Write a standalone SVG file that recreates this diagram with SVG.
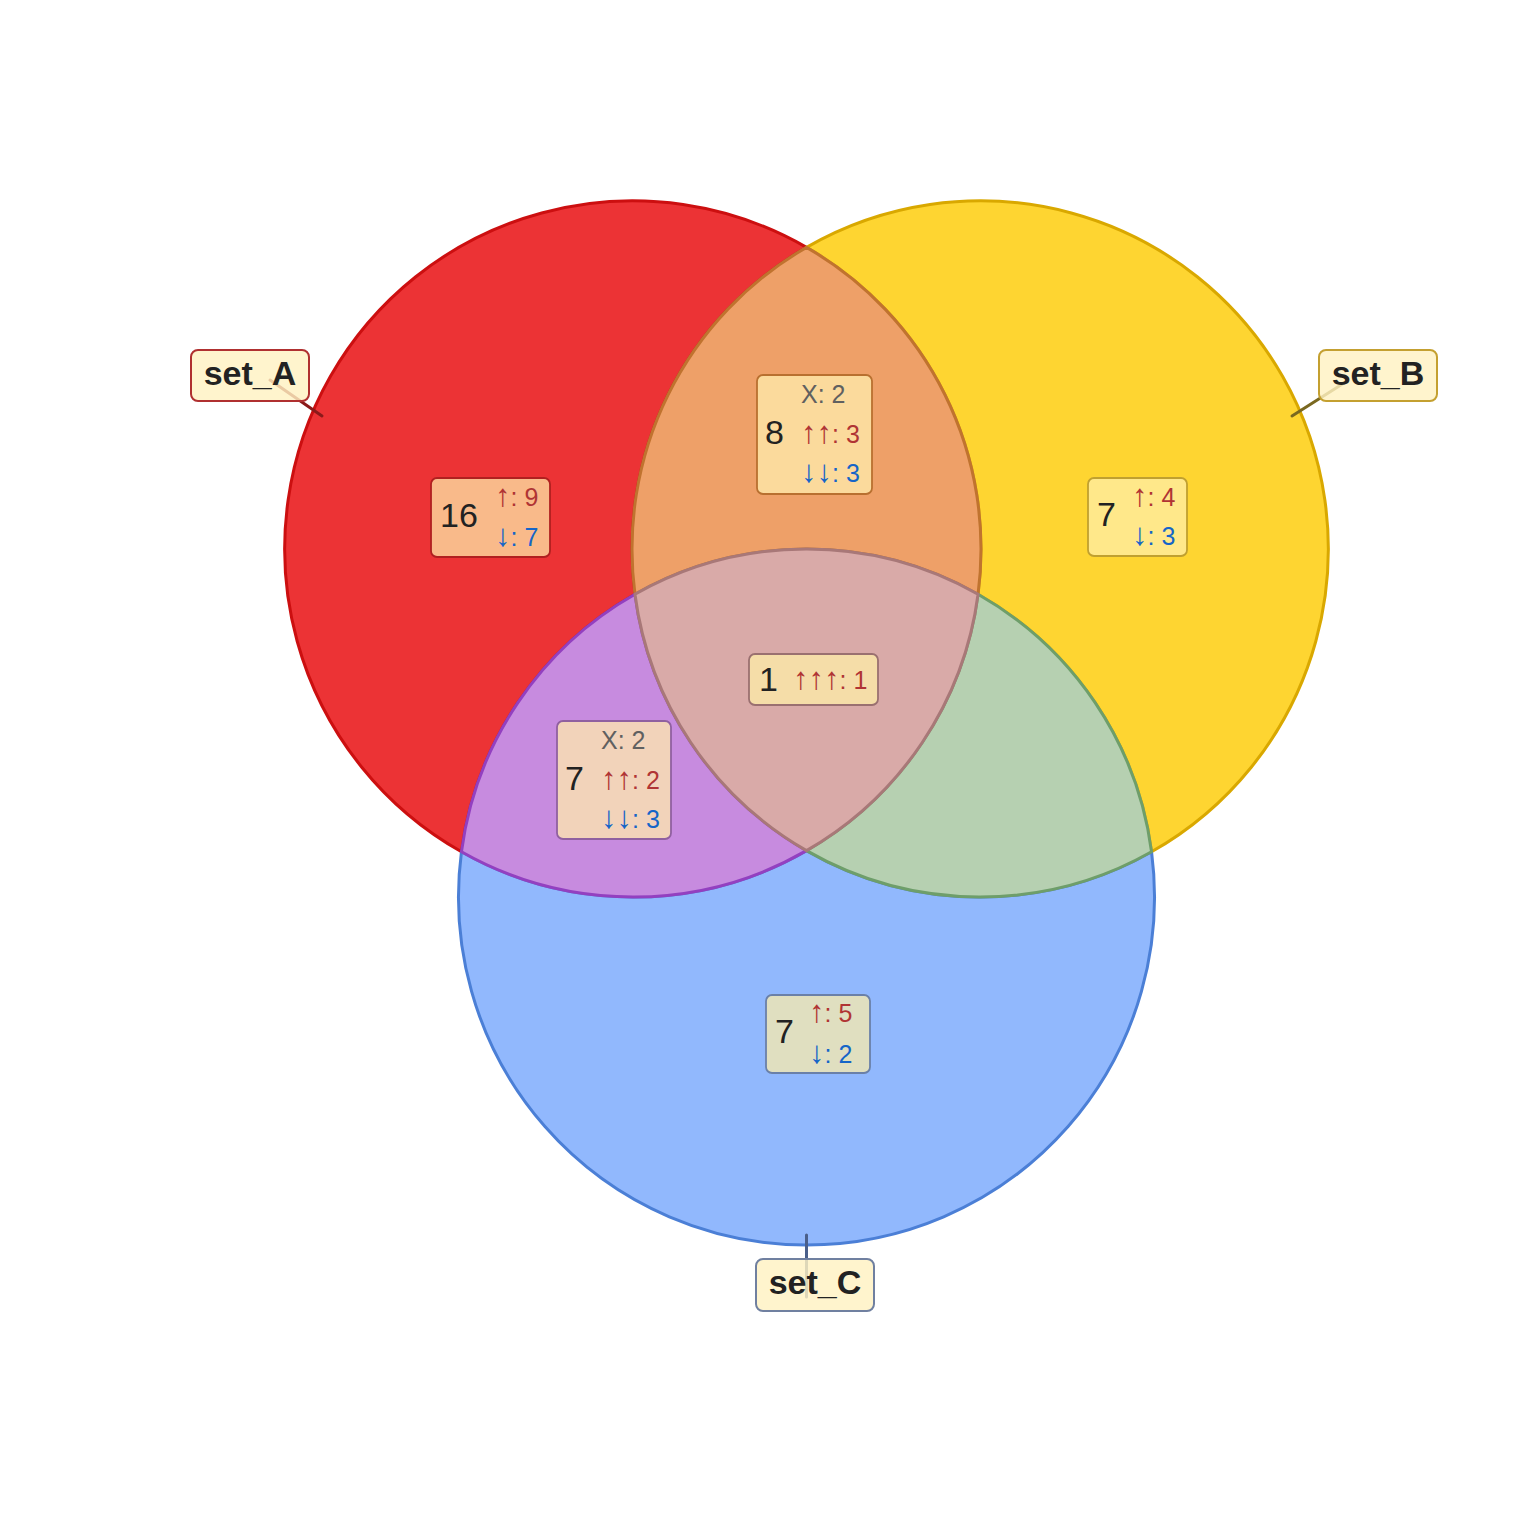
<svg xmlns="http://www.w3.org/2000/svg" width="1536" height="1536" viewBox="0 0 1536 1536">
<style>
.reg{stroke-width:3;stroke-linejoin:round}
.box{stroke-width:1.8}
.lab{fill:#FFF2C2;fill-opacity:0.82;stroke-width:2}
.big{font-family:"Liberation Sans",Arial,sans-serif;font-size:34px;fill:#222}
.sm{font-family:"Liberation Sans","DejaVu Sans",sans-serif;font-size:25px}
.ar{font-size:31px}
.x{fill:#606060}
.up{fill:#B03434}
.dn{fill:#1565C8}
.lt{font-family:"Liberation Sans",Arial,sans-serif;font-size:34px;font-weight:bold;fill:#222;text-anchor:middle}
</style>
<rect width="1536" height="1536" fill="#FFFFFF"/>
<g id="regions">
<path id="A_only" class="reg" fill="#EC3335" stroke="#CC0F10" d="M 806.5 247.34 A 348 348 0 1 0 461.45 851.78 A 348 348 0 0 1 634.95 594.22 A 348 348 0 0 1 806.5 247.34 Z"/>
<path id="B_only" class="reg" fill="#FED531" stroke="#D9A800" d="M 806.5 247.34 A 348 348 0 1 1 1151.55 851.78 A 348 348 0 0 0 978.05 594.22 A 348 348 0 0 0 806.5 247.34 Z"/>
<path id="C_only" class="reg" fill="#91B8FD" stroke="#4B7FD6" d="M 461.45 851.78 A 348 348 0 1 0 1151.55 851.78 A 348 348 0 0 1 806.5 850.66 A 348 348 0 0 1 461.45 851.78 Z"/>
<path id="AB" class="reg" fill="#EEA068" stroke="#C0732F" d="M 806.5 247.34 A 348 348 0 0 0 634.95 594.22 A 348 348 0 0 1 978.05 594.22 A 348 348 0 0 0 806.5 247.34 Z"/>
<path id="AC" class="reg" fill="#C78BDF" stroke="#9340C0" d="M 461.45 851.78 A 348 348 0 0 1 634.95 594.22 A 348 348 0 0 0 806.5 850.66 A 348 348 0 0 1 461.45 851.78 Z"/>
<path id="BC" class="reg" fill="#B6D0B1" stroke="#6E9E6A" d="M 1151.55 851.78 A 348 348 0 0 0 978.05 594.22 A 348 348 0 0 1 806.5 850.66 A 348 348 0 0 0 1151.55 851.78 Z"/>
<path id="ABC" class="reg" fill="#D9AAA8" stroke="#A87878" d="M 634.95 594.22 A 348 348 0 0 1 978.05 594.22 A 348 348 0 0 1 806.5 850.66 A 348 348 0 0 1 634.95 594.22 Z"/>
</g>
<g id="connectors" stroke-width="3" stroke-linecap="round">
<line x1="322" y1="416" x2="270" y2="380" stroke="#8B1A1A"/>
<line x1="1292" y1="416" x2="1344" y2="383" stroke="#7A6820"/>
<line x1="806.5" y1="1235" x2="806.5" y2="1297" stroke="#4A5F8A"/>
</g>
<g id="label_A">
<rect class="lab" x="191" y="350" width="118" height="51" rx="7" stroke="#B03030"/>
<text class="lt" x="250" y="385">set_A</text>
</g>
<g id="label_B">
<rect class="lab" x="1319" y="350" width="118" height="51" rx="7" stroke="#C4A030"/>
<text class="lt" x="1378" y="385">set_B</text>
</g>
<g id="label_C">
<rect class="lab" x="756" y="1259" width="118" height="52" rx="7" stroke="#7080A0"/>
<text class="lt" x="815" y="1294">set_C</text>
</g>
<g id="count_A">
<rect class="box" x="431" y="478" width="119" height="79" rx="6" fill="#F9BA8A" stroke="#B02020"/>
<text class="big" x="440" y="527">16</text>
<text class="sm up" x="495" y="506"><tspan class="ar">↑</tspan>: 9</text>
<text class="sm dn" x="495" y="546"><tspan class="ar">↓</tspan>: 7</text>
</g>
<g id="count_AB">
<rect class="box" x="757" y="375" width="115" height="119" rx="6" fill="#FBDA9C" stroke="#B87030"/>
<text class="sm x" x="801" y="403">X: 2</text>
<text class="big" x="765" y="444">8</text>
<text class="sm up" x="801" y="443"><tspan class="ar">↑↑</tspan>: 3</text>
<text class="sm dn" x="801" y="482"><tspan class="ar">↓↓</tspan>: 3</text>
</g>
<g id="count_B">
<rect class="box" x="1088" y="478" width="99" height="78" rx="6" fill="#FFE88A" stroke="#C0A030"/>
<text class="big" x="1097" y="526">7</text>
<text class="sm up" x="1132" y="506"><tspan class="ar">↑</tspan>: 4</text>
<text class="sm dn" x="1132" y="545"><tspan class="ar">↓</tspan>: 3</text>
</g>
<g id="count_ABC">
<rect class="box" x="749" y="654" width="129" height="51" rx="6" fill="#F5DDA8" stroke="#9A7070"/>
<text class="big" x="759" y="691">1</text>
<text class="sm up" x="793" y="689"><tspan class="ar">↑↑↑</tspan>: 1</text>
</g>
<g id="count_AC">
<rect class="box" x="557" y="721" width="114" height="118" rx="6" fill="#F2D3BA" stroke="#9060A0"/>
<text class="sm x" x="601" y="749">X: 2</text>
<text class="big" x="565" y="790">7</text>
<text class="sm up" x="601" y="789"><tspan class="ar">↑↑</tspan>: 2</text>
<text class="sm dn" x="601" y="828"><tspan class="ar">↓↓</tspan>: 3</text>
</g>
<g id="count_C">
<rect class="box" x="766" y="995" width="104" height="78" rx="6" fill="#E0DFC0" stroke="#6A80A8"/>
<text class="big" x="775" y="1043">7</text>
<text class="sm up" x="809" y="1022"><tspan class="ar">↑</tspan>: 5</text>
<text class="sm dn" x="809" y="1063"><tspan class="ar">↓</tspan>: 2</text>
</g>
</svg>
